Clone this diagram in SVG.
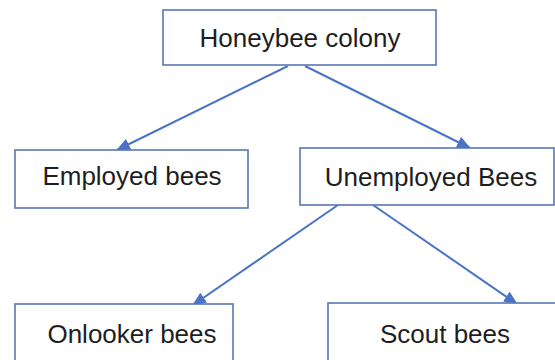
<svg xmlns="http://www.w3.org/2000/svg" width="555" height="360" viewBox="0 0 555 360">
<defs>
<style>
.box{fill:#fff;stroke:#5877b5;stroke-width:1.6}
.lbl{font-family:"Liberation Sans",Arial,sans-serif;font-size:26px;fill:#1e1e1e;text-anchor:middle}
.conn{stroke:#4a73c6;stroke-width:2;fill:none}
</style>
<marker id="ah" markerWidth="14" markerHeight="12" refX="13" refY="6" orient="auto" markerUnits="userSpaceOnUse">
<path d="M0,0 L14,6 L0,12 Z" fill="#4a73c6"/>
</marker>
</defs>
<rect width="555" height="360" fill="#fff"/>
<g id="connectors">
<line class="conn" x1="288" y1="66" x2="117" y2="150" marker-end="url(#ah)"/>
<line class="conn" x1="305" y1="66" x2="470" y2="148" marker-end="url(#ah)"/>
<line class="conn" x1="338" y1="205" x2="193" y2="305" marker-end="url(#ah)"/>
<line class="conn" x1="373" y1="205" x2="517" y2="304" marker-end="url(#ah)"/>
</g>
<g id="honeybee-colony">
<rect class="box" x="163" y="10" width="273" height="55"/>
<text class="lbl" x="300" y="47">Honeybee colony</text>
</g>
<g id="employed-bees">
<rect class="box" x="15" y="150" width="233" height="58"/>
<text class="lbl" x="132" y="185">Employed bees</text>
</g>
<g id="unemployed-bees">
<rect class="box" x="300" y="148" width="254" height="57"/>
<text class="lbl" x="431" y="186">Unemployed Bees</text>
</g>
<g id="onlooker-bees">
<rect class="box" x="15" y="304" width="218" height="62"/>
<text class="lbl" x="132" y="343">Onlooker bees</text>
</g>
<g id="scout-bees">
<rect class="box" x="328" y="303" width="240" height="62"/>
<text class="lbl" x="445" y="343">Scout bees</text>
</g>
</svg>
